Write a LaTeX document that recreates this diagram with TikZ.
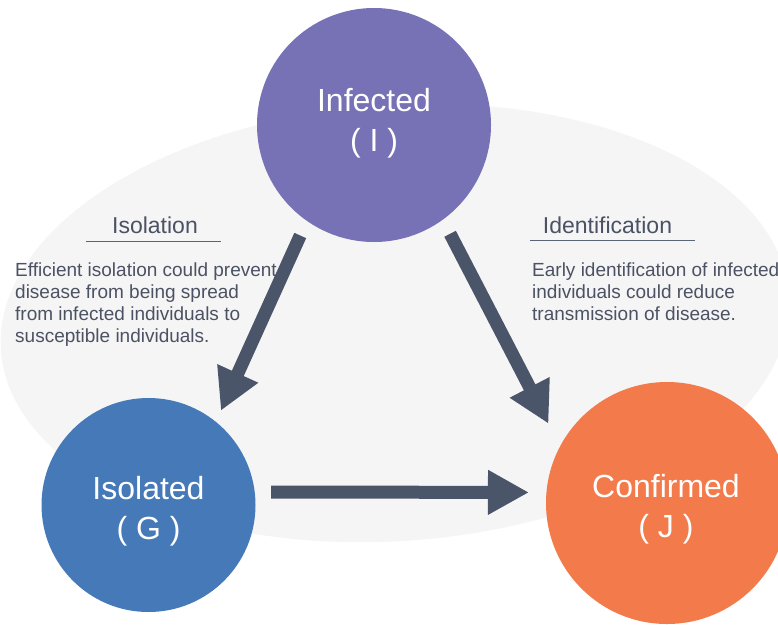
\documentclass[tikz,border=0pt]{standalone}
\usepackage{fontspec}
\setmainfont{Liberation Sans}
\usetikzlibrary{arrows.meta}
\definecolor{bgc}{HTML}{F5F5F5}
\definecolor{infc}{HTML}{7772B6}
\definecolor{isoc}{HTML}{4679B8}
\definecolor{conc}{HTML}{F37A4A}
\definecolor{arrc}{HTML}{4B5569}
\definecolor{txtc}{HTML}{4B5263}
\definecolor{rulec}{HTML}{5C6478}
\tikzset{
  stage/.style={circle, inner sep=0pt, outer sep=0pt},
  stagetext/.style={inner sep=0pt, text=white, align=center,
    font=\fontsize{32}{40}\selectfont},
  flow/.style={line width=13pt, draw=arrc, -{Triangle[length=41pt,width=42pt]}},
  heading/.style={anchor=base, text=txtc, inner sep=0pt, font=\fontsize{23}{27}\selectfont},
  body/.style={anchor=north west, text=txtc, inner sep=0pt, align=left,
    font=\fontsize{19}{22}\selectfont},
  rule/.style={draw=rulec, line width=1pt}
}
\begin{document}
\begin{tikzpicture}[x=1pt,y=-1pt]
\useasboundingbox (0,0) rectangle (778,624);
\clip (0,0) rectangle (778,624);
\fill[bgc, rotate around={4:(395,323)}] (395,323) ellipse [x radius=395, y radius=218];
\node[stage, fill=infc, minimum size=234pt] (I) at (374,125) {};
\node[stage, fill=isoc, minimum size=214pt] (G) at (148.5,505) {};
\node[stage, fill=conc, minimum size=242pt] (J) at (667,503) {};
\node[stagetext] (It) at ([yshift=1.5pt]I.center) {Infected\\( I )};
\node[stagetext] (Gt) at ([yshift=-6pt]G.center) {Isolated\\( G )};
\node[stagetext] (Jt) at ([yshift=-6.5pt,xshift=-1pt]J.center) {Confirmed\\( J )};
\draw[flow, shorten <=16.1pt, shorten >=12.2pt] (I.235.5) -- (G.51.6);
\draw[flow, shorten <=15.9pt, shorten >=25.3pt] (I.306.7) -- (J.152.8);
\draw[flow, shorten <=16.4pt, shorten >=17.5pt] (G.7) -- (J.175);
\node[heading] (isoh) at (155,233) {Isolation};
\draw[rule] (86,241) -- (221,241);
\node[heading] (idh) at (607.5,233) {Identification};
\draw[rule] (530,240) -- (695,240);
\node[body] (isob) at (15,263) {Efficient isolation could prevent\\disease from being spread\\from infected individuals to\\susceptible individuals.};
\node[body] (idb) at (532,263) {Early identification of infected\\individuals could reduce\\transmission of disease.};
\end{tikzpicture}
\end{document}
